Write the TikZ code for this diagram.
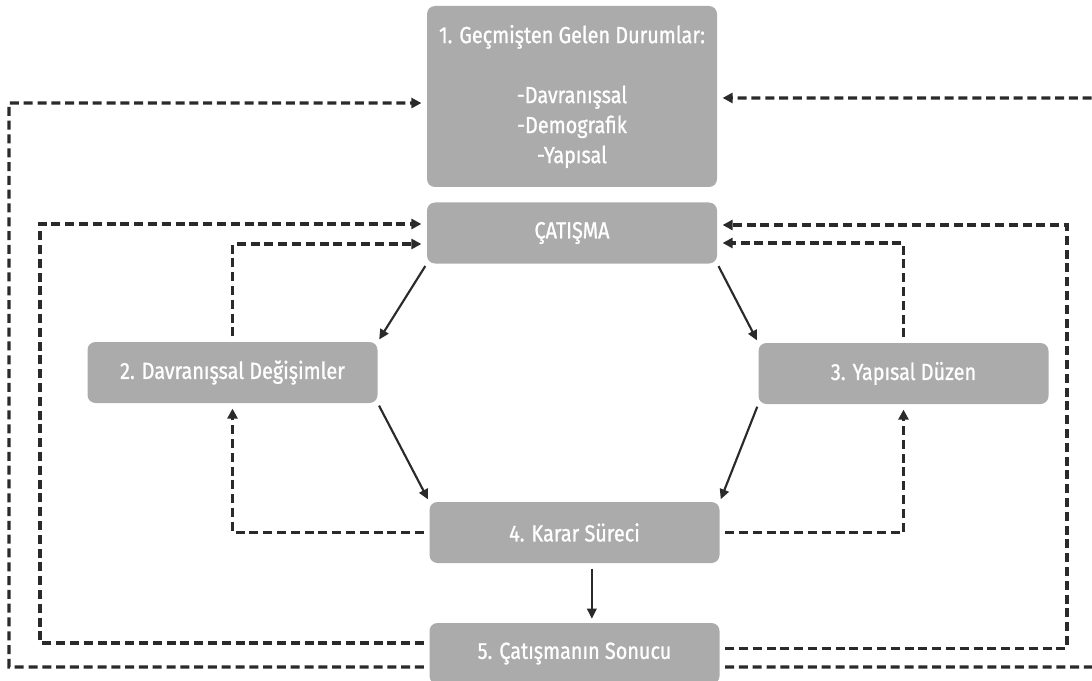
\documentclass[tikz,border=0pt]{standalone}
\usepackage{fontspec}
\setmainfont{Fira Sans}[FakeStretch=0.85, FakeBold=1]
\usetikzlibrary{arrows.meta}
\definecolor{boxgray}{HTML}{ABABAB}
\definecolor{linegray}{HTML}{2A2A2A}
\begin{document}
\begin{tikzpicture}[x=0.75pt,y=-0.75pt,
  stage/.style={fill=boxgray, rounded corners=6pt, minimum width=217.5pt,
    minimum height=45.75pt, inner sep=0pt, text=white, align=center,
    font=\fontsize{17.5}{22.5}\selectfont},
  flow/.style={draw=linegray, line width=1.6pt,
    -{Triangle[length=7.5pt,width=7pt]}, shorten >=2pt, shorten <=2pt},
  feedback/.style={draw=linegray, line width=2.3pt,
    dash pattern=on 6.75pt off 3.6pt,
    -{Triangle[length=7.5pt,width=7.5pt]}, shorten >=4pt, shorten <=4pt}]
  \useasboundingbox (0,0) rectangle (1092,681);
  \fill[white] (0,0) rectangle (1092,681);
  \clip (0,0) rectangle (1092,681);

  % stages
  \node[stage, minimum height=135.75pt] (past) at (572,96.5)
    {1. Geçmişten Gelen Durumlar:\\[22.5pt]-Davranışsal\\-Demografik\\-Yapısal};
  \node[stage] (conflict) at (572,233) {ÇATIŞMA};
  \node[stage] (behav) at (232.5,372.5) {2. Davranışsal Değişimler};
  \node[stage] (struct) at (903.5,373.5) {3. Yapısal Düzen};
  \node[stage] (decision) at (574.5,532.5) {4. Karar Süreci};
  \node[stage] (outcome) at (574.5,653.5) {5. Çatışmanın Sonucu};

  % main flow
  \draw[flow] (conflict.south west) -- (behav.north east);
  \draw[flow] (behav.south east) -- (decision.north west);
  \draw[flow] (conflict.south east) -- (struct.north west);
  \draw[flow] (struct.south west) -- (decision.north east);
  \draw[flow, shorten <=4pt, shorten >=3pt] ([xshift=13pt]decision.south) -- ([xshift=13pt]outcome.north);

  % feedback loops, left side
  \draw[feedback] ([yshift=-10.1pt]outcome.west) -| (9,103) -- ([yshift=-4.9pt]past.west);
  \draw[feedback] ([yshift=7.9pt]outcome.west) -| (40,224) -- ([yshift=6.75pt]conflict.west);
  \draw[feedback] (behav.north) |- ([yshift=-8.25pt]conflict.west);
  \draw[feedback] (decision.west) -| (behav.south);

  % feedback loops, right side
  \draw[feedback] ([yshift=-10.1pt]outcome.east) -| (1100,98) -- ([yshift=-1.1pt]past.east);
  \draw[feedback] ([yshift=4.1pt]outcome.east) -| (1067,225) -- ([yshift=6pt]conflict.east);
  \draw[feedback] (struct.north) |- ([yshift=-7.5pt]conflict.east);
  \draw[feedback] (decision.east) -| (struct.south);
\end{tikzpicture}
\end{document}
